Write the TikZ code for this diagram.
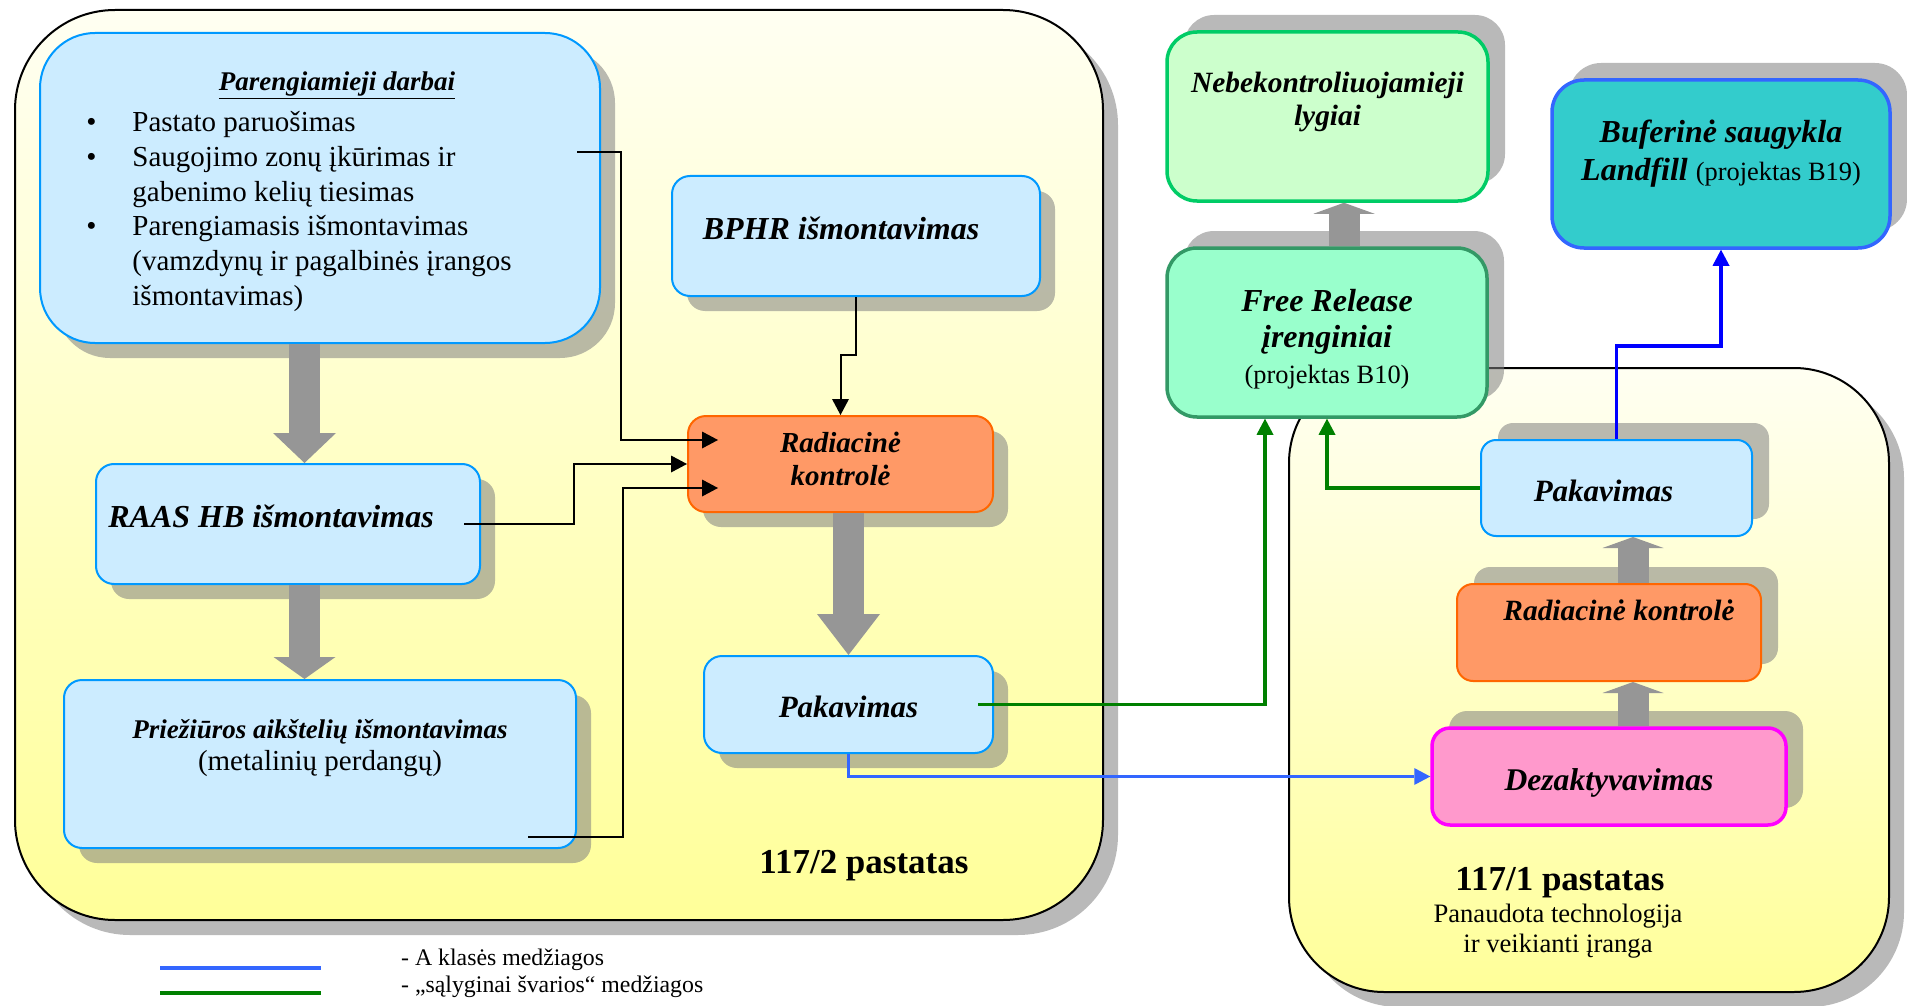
\documentclass[tikz,border=0pt]{standalone}
\usepackage{fontspec}
\setmainfont{Liberation Serif}
\usetikzlibrary{arrows.meta,shadows}

\definecolor{bluefill}{RGB}{204,236,255}
\definecolor{blueline}{RGB}{0,153,255}
\definecolor{orfill}{RGB}{255,153,102}
\definecolor{orline}{RGB}{255,102,0}
\definecolor{lgfill}{RGB}{204,255,204}
\definecolor{lgline}{RGB}{0,204,102}
\definecolor{mintfill}{RGB}{153,255,204}
\definecolor{mintline}{RGB}{51,153,102}
\definecolor{tealfill}{RGB}{51,204,204}
\definecolor{tealline}{RGB}{51,102,255}
\definecolor{pinkfill}{RGB}{255,153,204}
\definecolor{pinkline}{RGB}{255,0,255}
\definecolor{arrowgray}{RGB}{150,150,150}
\definecolor{flowgreen}{RGB}{0,128,0}
\definecolor{flowblue}{RGB}{0,0,255}
\definecolor{flowblue2}{RGB}{51,102,255}
\definecolor{ylwtop}{RGB}{255,255,242}
\definecolor{ylwbot}{RGB}{255,255,153}

\newcommand{\boxlift}[1]{\rule[-#1]{0pt}{#1}}

\begin{document}
\begin{tikzpicture}[x=1pt, y=-1pt,
  frame/.style={draw, line width=2pt, rounded corners=100pt, top color=ylwtop, bottom color=ylwbot,
    drop shadow={shadow xshift=15pt, shadow yshift=-15pt, fill=black!50, opacity=0.55}},
  box/.style={draw, line width=2pt, rounded corners=18pt, align=center, inner sep=0pt,
    font=\fontsize{32}{36}\selectfont\bfseries\itshape},
  shdown/.style={drop shadow={shadow xshift=15pt, shadow yshift=-15pt, fill=black!50, opacity=0.55}},
  shup/.style={drop shadow={shadow xshift=17pt, shadow yshift=17pt, fill=black!50, opacity=0.55}},
  bluebox/.style={box, shdown, draw=blueline, fill=bluefill},
  conn/.style={line width=2pt, -{Triangle[length=16pt, width=17pt, line width=0pt]}},
  flow/.style={line width=3.5pt, -{Triangle[length=16pt, width=17pt, line width=0pt]}},
  fat/.style={arrowgray, line width=31pt}]
\useasboundingbox (0,0) rectangle (1907,1006);

\node[frame, minimum width=1088pt, minimum height=910pt] (b2) at (559,465) {};
\node[frame, rounded corners=95pt, minimum width=600pt, minimum height=624pt] (b1) at (1589,680) {};

\node[bluebox, rounded corners=55pt, minimum width=560pt, minimum height=310pt, font=\fontsize{29}{34.8}\selectfont] (pare) at (320,188) {\begin{tabular}{@{}c@{\hspace{36pt}}l@{\hspace{42pt}}}
  \multicolumn{2}{@{}c@{}}{\rule{0pt}{30.5pt}\hspace{34pt}\fontsize{27}{30}\selectfont\bfseries\itshape\underline{Parengiamieji darbai}}\\[6pt]
  \textbullet & Pastato paruošimas\\
  \textbullet & Saugojimo zonų įkūrimas ir\\
   & gabenimo kelių tiesimas\\
  \textbullet & Parengiamasis išmontavimas\\
   & (vamzdynų ir pagalbinės įrangos\\
   & išmontavimas)
  \end{tabular}};
\node[bluebox, minimum width=368pt, minimum height=120pt] (bphr) at (856,236) {BPHR išmontavimas\boxlift{16pt}\hspace*{30pt}};
\node[box, shdown, draw=orline, fill=orfill, minimum width=305pt, minimum height=96pt, font=\fontsize{29}{33}\selectfont\bfseries\itshape] (radk) at (840.5,464) {Radiacinė\\kontrolė\boxlift{11pt}};
\node[bluebox, minimum width=384pt, minimum height=120pt] (raas) at (288,524) {RAAS HB išmontavimas\boxlift{16pt}\hspace*{34pt}};
\node[bluebox, minimum width=512pt, minimum height=168pt, font=\fontsize{29}{32}\selectfont] (prie) at (320,764) {{\fontsize{27}{32}\selectfont\bfseries\itshape Priežiūros aikštelių išmontavimas}\\(metalinių perdangų)\boxlift{38pt}};
\node[bluebox, minimum width=289pt, minimum height=97pt, font=\fontsize{31}{36}\selectfont\bfseries\itshape] (pak) at (848.5,704.5) {\rule{0pt}{27pt}Pakavimas};

\node[box, shup, line width=3.5pt, rounded corners=30pt, draw=lgline, fill=lgfill, minimum width=321pt, minimum height=169pt, font=\fontsize{29.4}{33}\selectfont\bfseries\itshape] (neb) at (1327.5,116.5) {Nebekontroliuojamieji\\lygiai\boxlift{36pt}};
\node[box, shup, line width=3.5pt, rounded corners=30pt, draw=mintline, fill=mintfill, minimum width=320pt, minimum height=169pt] (free) at (1327,332.5) {\rule{0pt}{36pt}Free Release\\įrenginiai\\{\normalfont\fontsize{26.4}{33}\selectfont (projektas B10)}};
\node[box, shup, line width=3.5pt, rounded corners=32pt, draw=tealline, fill=tealfill, minimum width=338pt, minimum height=168pt, font=\fontsize{32}{38}\selectfont\bfseries\itshape] (buf) at (1721,164) {Buferinė saugykla\\Landfill {\normalfont\fontsize{26.4}{38}\selectfont (projektas B19)}\boxlift{28pt}};
\node[box, shup, draw=blueline, fill=bluefill, rounded corners=15pt, minimum width=271pt, minimum height=96pt, font=\fontsize{31}{36}\selectfont\bfseries\itshape] (pak1) at (1616.5,488) {\rule{0pt}{28pt}Pakavimas\hspace*{26pt}};
\node[box, shup, draw=orline, fill=orfill, rounded corners=16pt, minimum width=304pt, minimum height=97pt, font=\fontsize{29.4}{33}\selectfont\bfseries\itshape] (radk1) at (1609,632.5) {\hspace*{20pt}Radiacinė kontrolė\boxlift{45pt}};
\node[box, shup, line width=3.5pt, draw=pinkline, fill=pinkfill, minimum width=354pt, minimum height=97pt, font=\fontsize{31.6}{36}\selectfont\bfseries\itshape] (dez) at (1609,776.5) {\rule{0pt}{34pt}Dezaktyvavimas};

\node[font=\fontsize{35}{40}\selectfont\bfseries, anchor=base] (lbl2) at (864,873) {117/2 pastatas};
\node[font=\fontsize{35}{40}\selectfont\bfseries, anchor=base] (lbl1) at (1560,890) {117/1 pastatas};
\node[font=\fontsize{26.6}{30}\selectfont, align=center, anchor=north, inner sep=0pt] (sub1) at (1558,904) {Panaudota technologija\\ir veikianti įranga};

\draw[fat, -{Triangle[length=30pt, width=63pt, line width=0pt]}] ([xshift=-15.5pt]pare.south) -- ([xshift=-15.5pt]pare.south |- raas.north);
\draw[fat, -{Triangle[length=22pt, width=62pt, line width=0pt]}] ([xshift=16.5pt]raas.south) -- ([xshift=16.5pt]raas.south |- prie.north);
\draw[fat, -{Triangle[length=41pt, width=63pt, line width=0pt]}] (pak.north |- radk.south) -- (pak.north);
\draw[fat, -{Triangle[length=11pt, width=61pt, line width=0pt]}] ([xshift=17pt]free.north) -- ([xshift=17pt]free.north |- neb.south);
\draw[fat, -{Triangle[length=11pt, width=61pt, line width=0pt]}] ([xshift=24pt]dez.north) -- ([xshift=24pt]dez.north |- radk1.south);
\draw[fat, -{Triangle[length=11pt, width=61pt, line width=0pt]}] ([xshift=24pt]radk1.north) -- ([xshift=24pt]radk1.north |- pak1.south);

\draw[conn] ([xshift=-24pt, yshift=36pt]pare.east) -| ([xshift=-66pt, yshift=24pt]radk.west) -- ([xshift=31pt, yshift=24pt]radk.west);
\draw[conn] ([xshift=-17pt]raas.east) -| ([xshift=-113pt]radk.west) -- (radk.west);
\draw[conn] ([xshift=-49pt, yshift=-73pt]prie.east) -| ([xshift=-64pt, yshift=-24pt]radk.west) -- ([xshift=31pt, yshift=-24pt]radk.west);
\draw[conn] (bphr.south) |- ([yshift=60pt]radk.north) -- (radk.north);

\draw[flow, flowgreen] ([xshift=-16pt]pak.east) -| ([xshift=-62pt]free.south);
\draw[flow, flowgreen] (pak1.west) -| (free.south);
\draw[flow, flowblue] (pak1.north) |- ([yshift=-96pt]buf.south) -- (buf.south);
\draw[flow, flowblue2] (pak.south) |- (dez.west);

\draw[flowblue2, line width=4pt] (160,968) -- (321,968);
\draw[flowgreen, line width=4pt] (160,993) -- (321,993);
\node[font=\fontsize{23.8}{25}\selectfont, anchor=base west, inner sep=0pt] (leg1) at (401,965) {- A klasės medžiagos};
\node[font=\fontsize{23.8}{25}\selectfont, anchor=base west, inner sep=0pt] (leg2) at (401,992) {- „sąlyginai švarios“ medžiagos};
\end{tikzpicture}
\end{document}
